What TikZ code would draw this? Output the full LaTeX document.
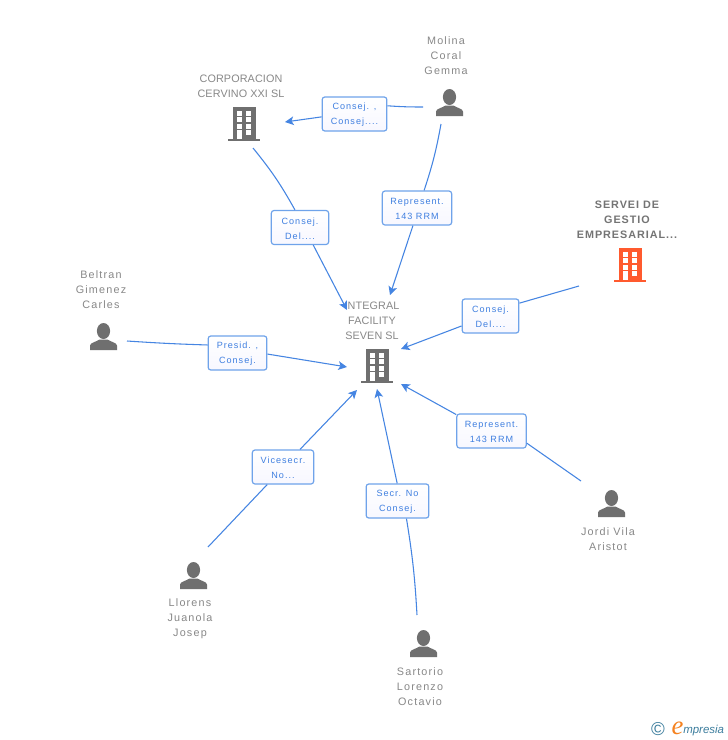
\documentclass[tikz,border=0pt]{standalone}
\usepackage{fontspec}
\setmainfont{Liberation Sans}
\newfontfamily\namefont[LetterSpace=11]{Liberation Sans}
\newfontfamily\compfont[LetterSpace=1]{Liberation Sans}
\newfontfamily\boldfont[LetterSpace=9]{Liberation Sans Bold}
\newfontfamily\labfont[LetterSpace=11]{Liberation Sans}
\newfontfamily\logofont{Liberation Sans Italic}
\newfontfamily\logoefont{Liberation Serif Italic}
\usetikzlibrary{arrows.meta,backgrounds}
\definecolor{edgeblue}{HTML}{4585E2}
\definecolor{boxblue}{HTML}{6FA3EA}
\definecolor{labblue}{HTML}{3F7FE0}
\definecolor{txtgrey}{HTML}{888888}
\definecolor{icongrey}{HTML}{6F6F6F}
\definecolor{iconred}{HTML}{FF5A2E}
\definecolor{logoteal}{HTML}{3D7E9E}
\definecolor{logoorange}{HTML}{F58220}
\newcommand{\rs}{\rule{0pt}{6.5pt}}
\tikzset{
  person name/.style={align=center,text=txtgrey,inner sep=0pt,font=\fontsize{8.1pt}{11.25pt}\selectfont\namefont},
  company name/.style={align=center,text=txtgrey,inner sep=0pt,font=\fontsize{8.1pt}{11.25pt}\selectfont\compfont},
  lead name/.style={align=center,text=txtgrey!85!black,inner sep=0pt,font=\fontsize{8.1pt}{11.25pt}\selectfont\boldfont},
  role/.style={draw=boxblue,line width=0.9pt,rounded corners=2pt,top color=white,bottom color=white!97!blue,
    text=labblue,align=center,inner sep=0pt,minimum height=25.5pt,
    font=\fontsize{6.8pt}{11.25pt}\selectfont\labfont},
  link/.style={draw=edgeblue,line width=0.8pt},
  arrowlink/.style={link,-{Stealth[length=6.5pt,width=6.5pt,inset=1.6pt]}},
}
\newcommand{\bldg}[3]{%
  \begin{scope}[shift={(#1,#2)}]
    \fill[#3] (5,0) rectangle (27.5,32);
    \fill[#3] (0,31.5) rectangle (32,33.5);
    \foreach \yy in {3.5,10,17,23}{
      \fill[white] (8.5,\yy) rectangle (13.5,\yy+5);
      \fill[white] (18,\yy) rectangle (23,\yy+5);
    }
    \fill[white] (8.5,25) rectangle (13.5,31.5);
  \end{scope}}
\newcommand{\pers}[2]{%
  \begin{scope}[shift={(#1,#2)}]
    \fill[icongrey] (13.5,8) ellipse (6.6 and 8);
    \fill[icongrey] (0,27) -- (0,22.5) .. controls (0.5,19.5) and (6,19) .. (9.5,16.5)
      -- (17.5,16.5) .. controls (21,19) and (26.5,19.5) .. (27,22.5) -- (27,27) -- cycle;
  \end{scope}}
\begin{document}
\begin{tikzpicture}[x=0.75pt,y=-0.75pt]
\useasboundingbox (0,0) rectangle (728,740);
\fill[white] (0,0) rectangle (728,740);

% icons
\bldg{228}{107}{icongrey}
\bldg{361}{349}{icongrey}
\bldg{614}{248}{iconred}
\pers{436}{89}
\pers{90}{323}
\pers{598}{490}
\pers{180}{562}
\pers{410}{630}

% names
\node[person name]  (molina)   at (446,55.7)  {Molina\\Coral\\Gemma};
\node[company name] (corp)     at (241,86.2){CORPORACION\\CERVINO XXI SL};
\node[lead name]    (servei)   at (627,219.7) {SERVEI DE\\GESTIO\\EMPRESARIAL...};
\node[company name] (integral) at (372,320.7) {INTEGRAL\\FACILITY\\SEVEN SL};
\node[person name]  (beltran)  at (101,289.7) {Beltran\\Gimenez\\Carles};
\node[person name]  (jordi)    at (608,539.2){Jordi Vila\\Aristot};
\node[person name]  (llorens)  at (190,618.7) {Llorens\\Juanola\\Josep};
\node[person name]  (sartorio) at (420,686.7) {Sartorio\\Lorenzo\\Octavio};

% role boxes
\node[role,minimum width=48.5pt] (l1) at (354.5,114) {\rs Consej. ,\\Consej....};
\node[role,minimum width=52pt]   (l2) at (417,208)   {\rs Represent.\\143 RRM};
\node[role,minimum width=43pt]   (l3) at (300,227.5) {\rs Consej.\\Del....};
\node[role,minimum width=42.5pt] (l4) at (490.5,316) {\rs Consej.\\Del....};
\node[role,minimum width=44pt]   (l5) at (237.5,353) {\rs Presid. ,\\Consej.};
\node[role,minimum width=52pt]   (l6) at (491.5,431) {\rs Represent.\\143 RRM};
\node[role,minimum width=46pt]   (l7) at (283,467)   {\rs Vicesecr.\\No...};
\node[role,minimum width=47pt]   (l8) at (397.5,501) {\rs Secr. No\\Consej.};

% connector ends
\coordinate (molinaW) at (423,107);
\coordinate (molinaS) at (441,124);
\coordinate (corpE)   at (285,122);
\coordinate (corpS)   at (253,148);
\coordinate (servSW)  at (579,286);
\coordinate (beltE)   at (127,341);
\coordinate (jordiNW) at (581,481);
\coordinate (llorNE)  at (208,547);
\coordinate (sartN)   at (417,615);
\coordinate (inN)  at (390,295);
\coordinate (inNW) at (347,310);
\coordinate (inE)  at (401,349);
\coordinate (inW)  at (347,367);
\coordinate (inSE) at (401,384);
\coordinate (inSW) at (357,390);
\coordinate (inS)  at (377,389);

% connectors
\draw[link] (molinaW) to[bend left=2] (l1.14);
\draw[arrowlink] (l1.185) -- (corpE);
\draw[link] (molinaS) to[bend left=4] (l2.68);
\draw[arrowlink] (l2.257) -- (inN);
\draw[link] (corpS) to[bend left=5] (l3.106);
\draw[arrowlink] (l3.307) -- (inNW);
\draw[link] (servSW) -- (l4.24.5);
\draw[arrowlink] (l4.199) -- (inE);
\draw[link] (beltE) to[bend right=1] (l5.165);
\draw[arrowlink] (l5.-2) -- (inW);
\draw[link] (jordiNW) -- (l6.-19);
\draw[arrowlink] (l6.155) -- (inSE);
\draw[link] (llorNE) -- (l7.228.6);
\draw[arrowlink] (l7.46.7) -- (inSW);
\draw[link] (sartN) to[bend right=3] (l8.-63);
\draw[arrowlink] (l8.91) -- (inS);

% logo
\node[text=logoteal,inner sep=0pt,font=\fontsize{14pt}{14pt}\selectfont] (copy) at (658,729) {\textcopyright};
\node[text=logoorange,inner sep=0pt,font=\fontsize{20pt}{20pt}\selectfont\logoefont] (logoe) at (677.5,728) {e};
\node[text=logoteal,inner sep=0pt,anchor=west,font=\fontsize{8.6pt}{9pt}\selectfont\logofont] (logot) at (683,731) {mpresia};
\end{tikzpicture}
\end{document}
